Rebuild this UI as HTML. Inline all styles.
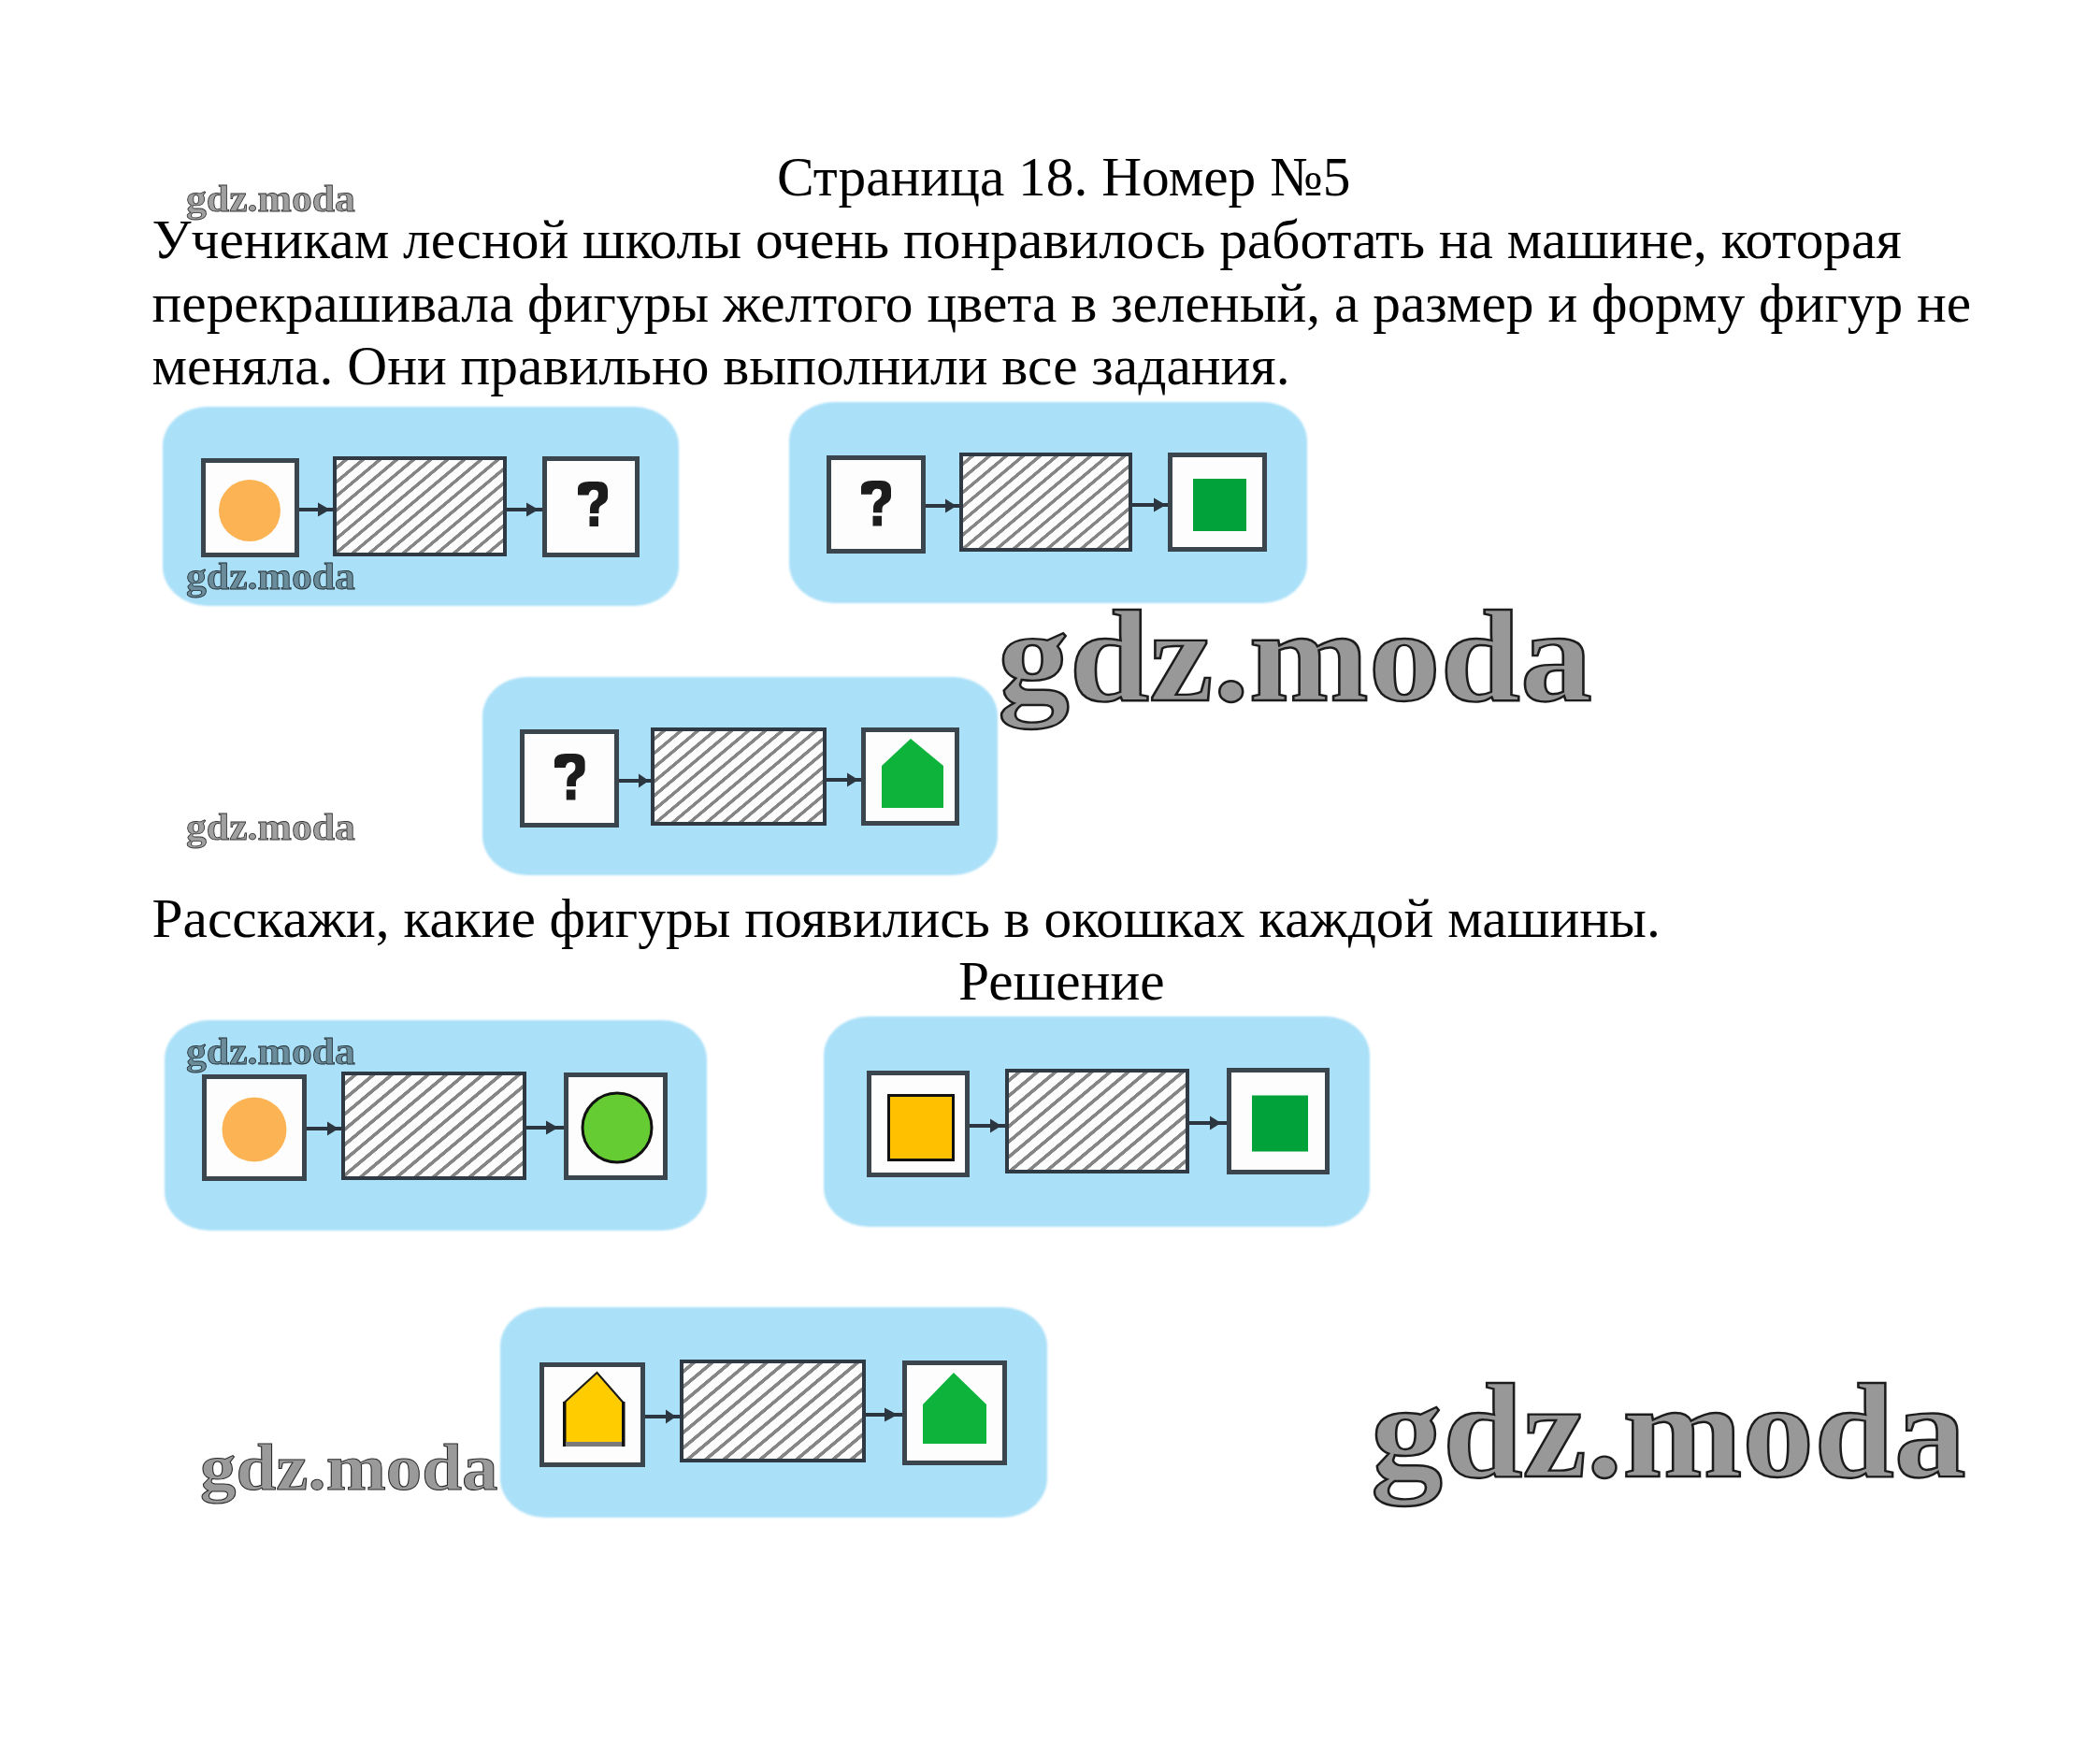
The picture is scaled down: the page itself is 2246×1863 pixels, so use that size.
<!DOCTYPE html>
<html><head><meta charset="utf-8">
<style>
html,body{margin:0;padding:0;background:#fff;}
body{width:2246px;height:1863px;position:relative;overflow:hidden;}
.tx{position:absolute;font-family:"Liberation Serif",serif;font-size:59.4px;line-height:1;white-space:nowrap;color:#000;}
.blue{position:absolute;background:#aae0f8;border-radius:48px/42px;filter:blur(1.2px);}
.box{position:absolute;box-sizing:border-box;border:5px solid #3a454e;background:#fdfdfd;}
.hatch{position:absolute;box-sizing:border-box;border:4px solid #2f3a44;
  background:repeating-linear-gradient(140deg,#fdfdfd 0px,#fdfdfd 4.5px,#858585 5px,#858585 8.2px,#fdfdfd 8.7px,#fdfdfd 12.5px);}
.hatch.m{background:repeating-linear-gradient(140deg,#fdfdfd 0px,#fdfdfd 4.2px,#858585 4.7px,#858585 7.7px,#fdfdfd 8.2px,#fdfdfd 11.6px);}
svg.ov{position:absolute;left:0;top:0;}
.wm{position:absolute;font-family:"Liberation Serif",serif;font-weight:bold;line-height:1;white-space:nowrap;color:#9a9a9a;transform-origin:0 0;-webkit-text-stroke:1px #2a2a2a;mix-blend-mode:multiply;}
.wm.big{-webkit-text-stroke:2.4px #1c1c1c;color:#989898;}
.wm.sm{-webkit-text-stroke:0.8px #333;color:#a0a0a0;}
</style></head><body>

<div class="tx" style="left:831px;top:160px">Страница 18. Номер №5</div>
<div class="tx" style="left:162.5px;top:227px">Ученикам лесной школы очень понравилось работать на машине, которая</div>
<div class="tx" style="left:162.5px;top:294.5px">перекрашивала фигуры желтого цвета в зеленый, а размер и форму фигур не</div>
<div class="tx" style="left:162.5px;top:362px">меняла. Они правильно выполнили все задания.</div>

<!-- Machine 1 -->
<div class="blue" style="left:174px;top:435px;width:552px;height:213px"></div>
<div class="box" style="left:215px;top:490px;width:105px;height:106px"></div>
<div class="hatch m" style="left:356px;top:488px;width:186px;height:107px"></div>
<div class="box" style="left:580px;top:488px;width:104px;height:108px"></div>

<!-- Machine 2 -->
<div class="blue" style="left:844px;top:430px;width:554px;height:215px"></div>
<div class="box" style="left:884px;top:487px;width:106px;height:105px"></div>
<div class="hatch m" style="left:1026px;top:484px;width:185px;height:106px"></div>
<div class="box" style="left:1249px;top:484px;width:106px;height:106px"></div>

<!-- Machine 3 -->
<div class="blue" style="left:516px;top:724px;width:551px;height:212px"></div>
<div class="box" style="left:556px;top:780px;width:106px;height:105px"></div>
<div class="hatch m" style="left:696px;top:778px;width:188px;height:105px"></div>
<div class="box" style="left:921px;top:778px;width:105px;height:105px"></div>

<div class="tx" style="left:162.5px;top:953px">Расскажи, какие фигуры появились в окошках каждой машины.</div>
<div class="tx" style="left:1025px;top:1020px">Решение</div>

<!-- Solution 1 -->
<div class="blue" style="left:176px;top:1091px;width:580px;height:225px"></div>
<div class="box" style="left:216px;top:1149px;width:112px;height:114px"></div>
<div class="hatch" style="left:365px;top:1146px;width:198px;height:116px"></div>
<div class="box" style="left:603px;top:1147px;width:111px;height:115px"></div>

<!-- Solution 2 -->
<div class="blue" style="left:881px;top:1087px;width:584px;height:225px"></div>
<div class="box" style="left:927px;top:1145px;width:110px;height:114px"></div>
<div class="hatch" style="left:1075px;top:1143px;width:197px;height:112px"></div>
<div class="box" style="left:1312px;top:1142px;width:110px;height:114px"></div>

<!-- Solution 3 -->
<div class="blue" style="left:535px;top:1398px;width:585px;height:225px"></div>
<div class="box" style="left:577px;top:1457px;width:113px;height:112px"></div>
<div class="hatch" style="left:727px;top:1454px;width:199px;height:110px"></div>
<div class="box" style="left:965px;top:1455px;width:112px;height:112px"></div>

<!-- question marks -->

<svg class="ov" width="2246" height="1863" viewBox="0 0 2246 1863">
 <defs><path id="qm" d="M0,15 L0,7 Q1,0 12,0 L21,0 Q32,0 32,10 L32,17 Q32,22 27,25 L24,27 Q22.5,28.5 22.5,31 L22.5,35 L13,35 L13,30 Q13,24.5 17.5,21.5 L19.5,20 Q22,18 22,13.5 Q22,9 17,9 Q12.5,9 11.5,15 Z M12.5,38.5 L22,38.5 L22,49.5 L12.5,49.5 Z"/></defs>
 <g fill="#1c1c1c">
  <use href="#qm" transform="translate(618,515) scale(1,0.97)"/>
  <use href="#qm" transform="translate(921,514) scale(1,0.98)"/>
  <use href="#qm" transform="translate(593,806) scale(1.02,1)"/>
 </g>
 <g fill="#2c3640" stroke="none">
  <!-- arrows: line + head -->
  <rect x="320" y="543" width="36" height="4"/><polygon points="340,537.5 353,545 340,552.5"/>
  <rect x="542" y="543" width="38" height="4"/><polygon points="563,537.5 576,545 563,552.5"/>
  <rect x="990" y="539" width="36" height="4"/><polygon points="1011,533.5 1023,541 1011,548.5"/>
  <rect x="1211" y="538" width="38" height="4"/><polygon points="1234,532.5 1247,540 1234,547.5"/>
  <rect x="662" y="833" width="34" height="4"/><polygon points="683,827.5 694,835 683,842.5"/>
  <rect x="884" y="832" width="37" height="4"/><polygon points="906,826.5 918,834 906,841.5"/>
  <rect x="328" y="1205" width="37" height="4"/><polygon points="350,1199.5 362,1207 350,1214.5"/>
  <rect x="563" y="1204" width="40" height="4"/><polygon points="584,1198.5 597,1206 584,1213.5"/>
  <rect x="1037" y="1202" width="38" height="4"/><polygon points="1059,1196.5 1071,1204 1059,1211.5"/>
  <rect x="1272" y="1199" width="40" height="4"/><polygon points="1294,1193.5 1306,1201 1294,1208.5"/>
  <rect x="690" y="1513" width="37" height="4"/><polygon points="712,1507.5 723,1515 712,1522.5"/>
  <rect x="926" y="1511" width="39" height="4"/><polygon points="946,1505.5 960,1513 946,1520.5"/>
 </g>
 <!-- shapes -->
 <circle cx="267" cy="546" r="33" fill="#fcb353"/>
 <rect x="1276" y="512" width="57" height="56" fill="#02a23a"/>
 <polygon points="943,819 974,790 1009,819 1009,864 943,864" fill="#0db33b"/>
 <circle cx="272" cy="1208" r="34.5" fill="#fcb353"/>
 <circle cx="660" cy="1206" r="37" fill="#66cc33" stroke="#111" stroke-width="3"/>
 <rect x="950.5" y="1171.5" width="69" height="69" fill="#ffc000" stroke="#111" stroke-width="3"/>
 <rect x="1339" y="1171.5" width="60" height="60" fill="#02a23a"/>
 <polygon points="603.5,1500 638.5,1468 666.5,1500 666.5,1542 603.5,1542" fill="#ffcc00"/>
 <polyline points="603.5,1500 638.5,1468 666.5,1500" fill="none" stroke="#1a1a1a" stroke-width="2"/>
 <rect x="602" y="1499" width="3.5" height="48" fill="#111"/>
 <rect x="665" y="1499" width="3.5" height="48" fill="#111"/>
 <rect x="605" y="1542" width="60" height="5" fill="#7a7a7a"/>
 <polygon points="987,1502 1020,1468 1055,1502 1055,1544 987,1544" fill="#0db33b"/>
</svg>

<!-- watermarks -->
<div class="wm sm" style="left:199px;top:193px;font-size:40.3px;transform:scaleX(1.085)">gdz.moda</div>
<div class="wm sm" style="left:199px;top:597px;font-size:40.3px;transform:scaleX(1.085)">gdz.moda</div>
<div class="wm sm" style="left:199px;top:865px;font-size:40.3px;transform:scaleX(1.085)">gdz.moda</div>
<div class="wm sm" style="left:199px;top:1105px;font-size:40.3px;transform:scaleX(1.085)">gdz.moda</div>
<div class="wm" style="left:214px;top:1534px;font-size:70.3px;transform:scaleX(1.095)">gdz.moda</div>
<div class="wm big" style="left:1067px;top:632.5px;font-size:139px;transform:scaleX(1.105)">gdz.moda</div>
<div class="wm big" style="left:1466px;top:1459px;font-size:143.5px;transform:scaleX(1.072)">gdz.moda</div>

</body></html>
